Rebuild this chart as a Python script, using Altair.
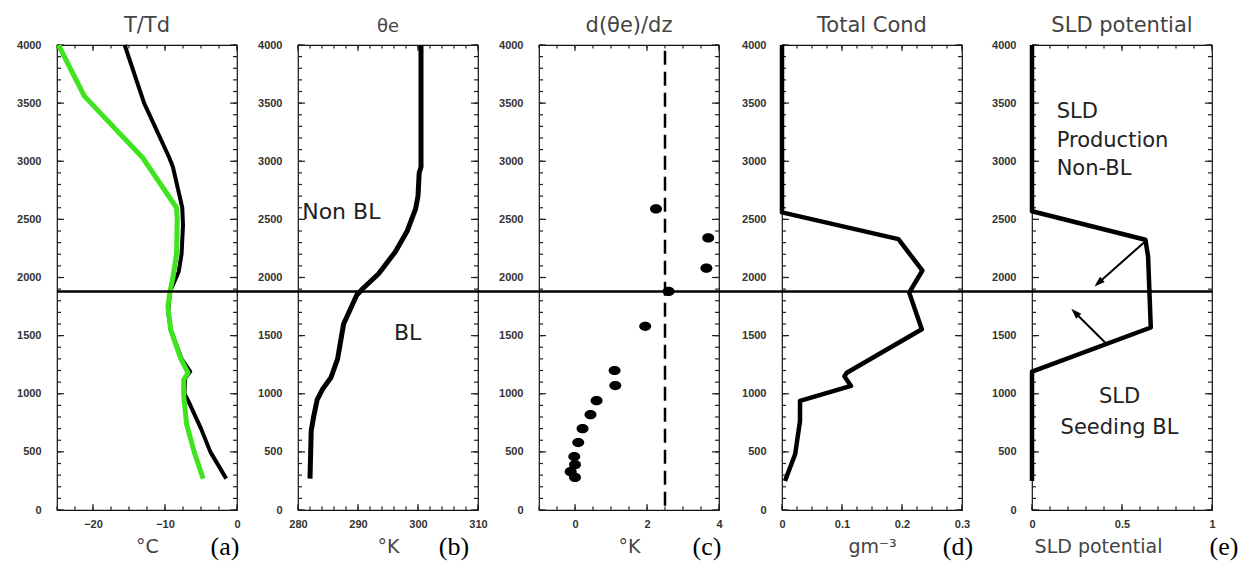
import math
import altair as alt
import pandas as pd

W, H = 180, 465
SPACING = 30
GAP_EXTRA = [1, 1, 3, 10]
Y_DOMAIN = [0, 4000]
Y_LABELS = [0, 500, 1000, 1500, 2000, 2500, 3000, 3500, 4000]
Y_MINOR = list(range(0, 4001, 100))
BL_HEIGHT = [1880]

# ---- (a) T / Td ----
t_height = [4000, 3500, 3030, 2950, 2600, 2450, 2200, 2050, 1880, 1700, 1550, 1300, 1190, 1130, 1000, 930, 700, 500, 270]
t_temp = [-15.6, -12.9, -9.4, -8.9, -7.6, -7.5, -7.7, -8.1, -9.3, -9.55, -9.2, -7.7, -6.5, -7.2, -7.3, -6.7, -5.0, -3.7, -1.5]
td_height = [4000, 3560, 3030, 2600, 2500, 2200, 2000, 1880, 1750, 1550, 1300, 1180, 1120, 980, 740, 490, 270]
td_temp = [-24.8, -21.2, -13.1, -8.4, -8.3, -8.4, -8.9, -9.3, -9.6, -9.2, -7.8, -6.8, -7.4, -7.4, -7.0, -5.9, -4.7]
a_x_labels = [-20, -10, 0]
a_x_minor = [-25, -22.5, -20, -17.5, -15, -12.5, -10, -7.5, -5, -2.5, 0]

# ---- (b) theta-e ----
te_height = [4000, 2950, 2900, 2700, 2590, 2400, 2220, 2030, 1910, 1850, 1600, 1300, 1140, 1040, 950, 800, 680, 270]
te_value = [300.5, 300.5, 300.2, 300.0, 299.6, 298.2, 296.2, 293.4, 290.9, 289.8, 287.6, 286.6, 285.5, 284.1, 283.2, 282.6, 282.2, 282.0]
b_x_labels = [280, 290, 300, 310]
b_x_minor = [280, 282, 284, 286, 288, 290, 292, 294, 296, 298, 300, 302, 304, 306, 308, 310]

# ---- (c) d(theta-e)/dz ----
dz_value = [2.25, 3.7, 3.65, 2.6, 1.95, 1.1, 1.12, 0.6, 0.43, 0.21, 0.09, -0.02, 0.0, -0.12, 0.0]
dz_height = [2590, 2340, 2080, 1880, 1580, 1200, 1070, 940, 820, 700, 580, 460, 390, 330, 280]
dz_thresh_x = [2.5, 2.5]
dz_thresh_h = [3950, 20]
c_x_labels = [0, 2, 4]
c_x_minor = [-1, -0.5, 0, 0.5, 1, 1.5, 2, 2.5, 3, 3.5, 4]

# ---- (d) total condensate ----
cond_value = [0, 0, 0.194, 0.234, 0.212, 0.233, 0.108, 0.104, 0.115, 0.030, 0.030, 0.022, 0.005]
cond_height = [4000, 2560, 2330, 2060, 1870, 1555, 1181, 1150, 1067, 938, 766, 482, 249]
d_x_labels = [0, 0.1, 0.2, 0.3]
d_x_minor = [0, 0.025, 0.05, 0.075, 0.1, 0.125, 0.15, 0.175, 0.2, 0.225, 0.25, 0.275, 0.3]

# ---- (e) SLD potential ----
sld_value = [0, 0, 0.63, 0.645, 0.66, 0, 0]
sld_height = [4000, 2570, 2325, 2180, 1570, 1190, 250]
arrow_x1 = [0.632, 0.42]
arrow_h1 = [2315, 1420]
arrow_x2 = [0.37, 0.24]
arrow_h2 = [1955, 1697]
e_x_labels = [0, 0.5, 1]
e_x_minor = [0, 0.1, 0.2, 0.3, 0.4, 0.5, 0.6, 0.7, 0.8, 0.9, 1]

TICK_FONT = "Liberation Sans"
TEXT_FONT = "DejaVu Sans"
TICK_COLOR = "#222"


def tick_layers(xs, ys, xlab, xminor):
    """Inward ticks on all four sides, drawn through the panel scales."""
    out = []
    ymaj = pd.DataFrame({"h": Y_LABELS})
    ymin = pd.DataFrame({"h": Y_MINOR})
    xmaj = pd.DataFrame({"x": xlab})
    xmin = pd.DataFrame({"x": xminor})
    for df, ln in ((ymaj, 7), (ymin, 4)):
        for a, b in ((0, ln), (W - ln, W)):
            out.append(alt.Chart(df).mark_rule(color=TICK_COLOR, strokeWidth=1.2).encode(
                y=alt.Y("h:Q", scale=ys, axis=None), x=alt.value(a), x2=alt.value(b)))
    for df, ln in ((xmaj, 6), (xmin, 3.5)):
        for a, b in ((H, H - ln), (0, ln)):
            out.append(alt.Chart(df).mark_rule(color=TICK_COLOR, strokeWidth=1.2).encode(
                x=alt.X("x:Q", scale=xs, axis=None), y=alt.value(a), y2=alt.value(b)))
    return out


def panel(builders, xdom, xlab, xminor, title, xtitle, letter, letter_x,
          rule_to, title_size=21, xtitle_x=None):
    xs = alt.Scale(domain=xdom, nice=False, zero=False)
    ys = alt.Scale(domain=Y_DOMAIN, nice=False, zero=False)
    frame = pd.DataFrame({"x": xdom, "h": Y_DOMAIN})

    xt_kwargs = dict(orient="bottom", values=xlab, labelExpr="format(datum.value, '~g')",
                     ticks=False, tickSize=0, domain=False, grid=False, labelPadding=8,
                     labelFlush=False, labelOverlap=False, labelFont=TICK_FONT,
                     labelFontSize=11, labelFontWeight="bold", labelColor="#333",
                     title=xtitle, titleFont=TEXT_FONT, titleFontSize=19,
                     titleFontWeight="normal", titleColor="#444", titlePadding=8)
    if xtitle_x is not None:
        xt_kwargs["titleX"] = xtitle_x
    lab = alt.Chart(frame).mark_point(opacity=0).encode(
        x=alt.X("x:Q", scale=xs, axis=alt.Axis(**xt_kwargs)),
        y=alt.Y("h:Q", scale=ys,
                axis=alt.Axis(orient="left", values=Y_LABELS, format="d", ticks=False, tickSize=0,
                              domain=False, grid=False, labelPadding=16, labelFont=TICK_FONT,
                              labelFontSize=11, labelFontWeight="bold", labelColor="#333",
                              title=None)))

    rule = alt.Chart(pd.DataFrame({"h": BL_HEIGHT})).mark_rule(
        color="black", strokeWidth=2.5).encode(
        y=alt.Y("h:Q", scale=ys, axis=None), x=alt.value(0), x2=alt.value(rule_to))
    letter_layer = alt.Chart(pd.DataFrame({"t": [letter]})).mark_text(
        font="Liberation Serif", fontSize=26, color="black", align="center",
        baseline="alphabetic").encode(text="t:N", x=alt.value(letter_x), y=alt.value(H + 45))

    data_layers = [b(xs, ys) for b in builders]
    return alt.layer(lab, *tick_layers(xs, ys, xlab, xminor), *data_layers, rule,
                     letter_layer).resolve_axis(x="independent", y="independent").properties(
        width=W, height=H,
        title=alt.TitleParams(title, font=TEXT_FONT, fontSize=title_size, fontWeight="normal",
                              color="#444", offset=3))


def spacer(w):
    return alt.Chart(pd.DataFrame({"x": [0], "h": [0]})).mark_point(opacity=0).encode(
        x=alt.X("x:Q", axis=None), y=alt.Y("h:Q", axis=None)).properties(
        width=w, height=H, view=alt.ViewBackground(stroke="transparent"))


def line_layer(xv, hv, color, width):
    df = pd.DataFrame({"x": xv, "h": hv, "i": list(range(len(xv)))})

    def build(xs, ys):
        return alt.Chart(df).mark_line(color=color, strokeWidth=width, strokeJoin="round").encode(
            x=alt.X("x:Q", scale=xs, axis=None), y=alt.Y("h:Q", scale=ys, axis=None),
            order="i:Q")
    return build


def text_layer(x, h, text, align, size=21, line_height=28):
    df = pd.DataFrame({"x": [x], "h": [h], "t": [text]})

    def build(xs, ys):
        return alt.Chart(df).mark_text(font=TEXT_FONT, fontSize=size, color="#222", align=align,
                                       baseline="alphabetic", lineBreak="\n",
                                       lineHeight=line_height).encode(
            x=alt.X("x:Q", scale=xs, axis=None), y=alt.Y("h:Q", scale=ys, axis=None), text="t:N")
    return build


def dots_layer(xv, hv):
    df = pd.DataFrame({"x": xv, "h": hv})

    def build(xs, ys):
        return alt.Chart(df).mark_point(
            shape="M-1.3,0A1.3,1 0 1,0 1.3,0A1.3,1 0 1,0 -1.3,0Z",
            filled=True, color="black", opacity=1, size=85).encode(
            x=alt.X("x:Q", scale=xs, axis=None), y=alt.Y("h:Q", scale=ys, axis=None))
    return build


def dashed_layer(xv, hv):
    df = pd.DataFrame({"x": xv, "h": hv, "i": [0, 1]})

    def build(xs, ys):
        return alt.Chart(df).mark_line(color="black", strokeWidth=2.5, strokeDash=[14, 7]).encode(
            x=alt.X("x:Q", scale=xs, axis=None), y=alt.Y("h:Q", scale=ys, axis=None), order="i:Q")
    return build


def arrows_layer(x1, h1, x2, h2, xdom):
    px_x = W / (xdom[1] - xdom[0])
    px_h = H / (Y_DOMAIN[1] - Y_DOMAIN[0])
    angles = []
    for a, b, c, d in zip(x1, h1, x2, h2):
        dx = (c - a) * px_x
        dy = -(d - b) * px_h
        angles.append(math.degrees(math.atan2(dx, -dy)) % 360)
    df = pd.DataFrame({"x": x1, "h": h1, "x2": x2, "h2": h2, "angle": angles})

    def build(xs, ys):
        shaft = alt.Chart(df).mark_rule(color="black", strokeWidth=2).encode(
            x=alt.X("x:Q", scale=xs, axis=None), y=alt.Y("h:Q", scale=ys, axis=None),
            x2="x2:Q", y2="h2:Q")
        head = alt.Chart(df).mark_point(shape="M0,-1L0.65,0.9L-0.65,0.9Z", filled=True,
                                         color="black", opacity=1, size=121).encode(
            x=alt.X("x2:Q", scale=xs, axis=None), y=alt.Y("h2:Q", scale=ys, axis=None),
            angle=alt.Angle("angle:Q", scale=None))
        return alt.layer(shaft, head)
    return build


RULE_TO = [W + 2 * SPACING + g for g in GAP_EXTRA] + [W]

pa = panel([line_layer(t_temp, t_height, "black", 4),
            line_layer(td_temp, td_height, "#3fe41f", 5)],
           [-25, 0], a_x_labels, a_x_minor, "T/Td", "°C", "(a)", 168, RULE_TO[0])
pb = panel([line_layer(te_value, te_height, "black", 5),
            text_layer(280.7, 2500, "Non BL", "left", 22),
            text_layer(296, 1460, "BL", "left", 22)],
           [280, 310], b_x_labels, b_x_minor, "θe", "°K", "(b)", 156, RULE_TO[1], title_size=18)
pc = panel([dashed_layer(dz_thresh_x, dz_thresh_h),
            dots_layer(dz_value, dz_height)],
           [-1, 4], c_x_labels, c_x_minor, "d(θe)/dz", "°K", "(c)", 168, RULE_TO[2])
pd_ = panel([line_layer(cond_value, cond_height, "black", 4.5)],
            [0, 0.3], d_x_labels, d_x_minor, "Total Cond", "gm⁻³", "(d)", 176, RULE_TO[3])
pe = panel([line_layer(sld_value, sld_height, "black", 4.5),
            arrows_layer(arrow_x1, arrow_h1, arrow_x2, arrow_h2, [0, 1]),
            text_layer(0.137, 3372, "SLD\nProduction\nNon-BL", "left", 21, 28.5),
            text_layer(0.486, 918, "SLD\nSeeding BL", "center", 21, 31)],
           [0, 1], e_x_labels, e_x_minor, "SLD potential", "SLD potential", "(e)", 192, RULE_TO[4],
           xtitle_x=66)

chart = alt.hconcat(pa, spacer(GAP_EXTRA[0]), pb, spacer(GAP_EXTRA[1]), pc,
                    spacer(GAP_EXTRA[2]), pd_, spacer(GAP_EXTRA[3]), pe,
                    spacing=SPACING, bounds="flush").configure_view(
    stroke="#111", strokeWidth=1.2).properties(
    padding={"left": 7, "top": 6, "right": 0, "bottom": 30})

chart.save("out.html", embed_options={"renderer": "svg", "actions": False})
